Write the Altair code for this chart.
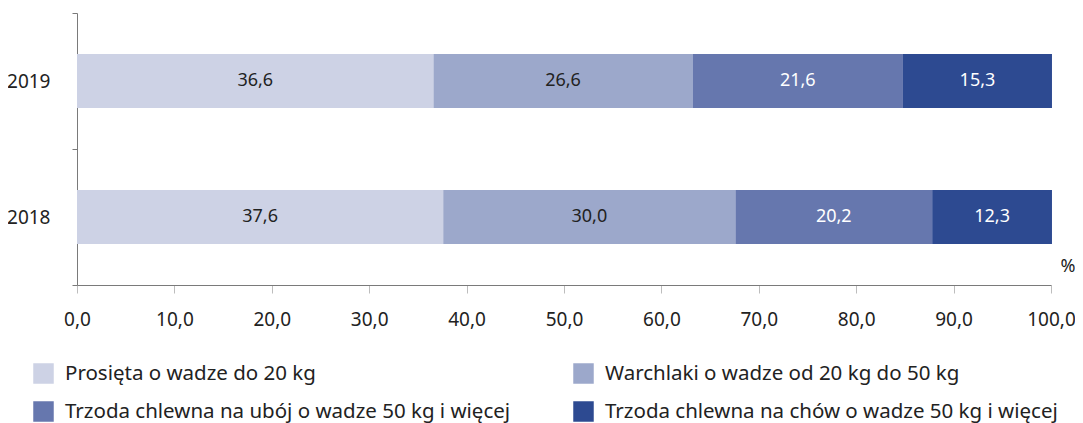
import altair as alt
import pandas as pd

years = ["2019", "2018"]
categories = [
    "Prosięta o wadze do 20 kg",
    "Warchlaki o wadze od 20 kg do 50 kg",
    "Trzoda chlewna na ubój o wadze 50 kg i więcej",
    "Trzoda chlewna na chów o wadze 50 kg i więcej",
]
values_2019 = [36.6, 26.6, 21.6, 15.3]
values_2018 = [37.6, 30.0, 20.2, 12.3]
colors = ["#cdd2e5", "#9ca8cb", "#6677ae", "#2d4a91"]
text_colors = ["#222222", "#222222", "#ffffff", "#ffffff"]

rows = []
for y, vals in zip(years, [values_2019, values_2018]):
    for i, (c, v) in enumerate(zip(categories, vals)):
        rows.append({"year": y, "cat": c, "idx": i, "value": v, "tcol": text_colors[i]})
df = pd.DataFrame(rows)

FONT = "Noto Sans"

base = alt.Chart(df).transform_stack(
    stack="value", groupby=["year"], as_=["x0", "x1"], sort=[alt.SortField("idx")]
).transform_calculate(
    mid="(datum.x0 + datum.x1) / 2",
    label="replace(format(datum.value, '.1f'), '.', ',')",
)

y_enc = alt.Y(
    "year:N",
    sort=years,
    scale=alt.Scale(paddingInner=0, paddingOuter=0),
    axis=alt.Axis(
        title=None,
        tickBand="extent",
        tickSize=5,
        labelPadding=22,
        labelFontSize=19,
        labelColor="#222222",
        domainColor="#7a7a7a",
        tickColor="#7a7a7a",
        labelFont=FONT,
    ),
)

bars = base.mark_bar(size=54).encode(
    x=alt.X(
        "x0:Q",
        scale=alt.Scale(domain=[0, 100], nice=False),
        axis=alt.Axis(
            values=list(range(0, 101, 10)),
            labelExpr="replace(format(datum.value, '.1f'), '.', ',')",
            labelFlush=False,
            title="%",
            titleX=983,
            titleY=-28,
            titleAnchor="start",
            titleFontWeight="normal",
            titleFontSize=18,
            titleFont=FONT,
            titleColor="#222222",
            tickSize=8,
            labelPadding=17,
            labelFontSize=19,
            labelColor="#222222",
            labelFont=FONT,
            domainColor="#7a7a7a",
            tickColor="#bdbdbd",
            grid=False,
        ),
    ),
    x2="x1:Q",
    y=y_enc,
    color=alt.Color(
        "cat:N",
        sort=categories,
        scale=alt.Scale(domain=categories, range=colors),
        legend=alt.Legend(
            title=None,
            orient="none",
            legendX=-44,
            legendY=350,
            direction="horizontal",
            columns=2,
            columnPadding=62,
            rowPadding=17,
            symbolType="square",
            symbolSize=420,
            symbolStrokeWidth=0,
            symbolOpacity=1,
            labelFontSize=20.5,
            labelFont=FONT,
            labelColor="#222222",
            labelOffset=11,
            labelLimit=700,
        ),
    ),
    order=alt.Order("idx:Q"),
)

texts = base.mark_text(fontSize=18, font=FONT).encode(
    x=alt.X("mid:Q"),
    y=alt.Y("year:N", sort=years),
    text="label:N",
    color=alt.Color("tcol:N", scale=None),
)

chart = alt.layer(bars, texts).properties(
    width=974,
    height=272,
    autosize=alt.AutoSizeParams(type="none"),
    padding={"left": 69, "top": 5, "right": 24, "bottom": 138},
).configure_view(stroke=None)

chart.save("out.html", embed_options={"renderer": "svg", "actions": False})
